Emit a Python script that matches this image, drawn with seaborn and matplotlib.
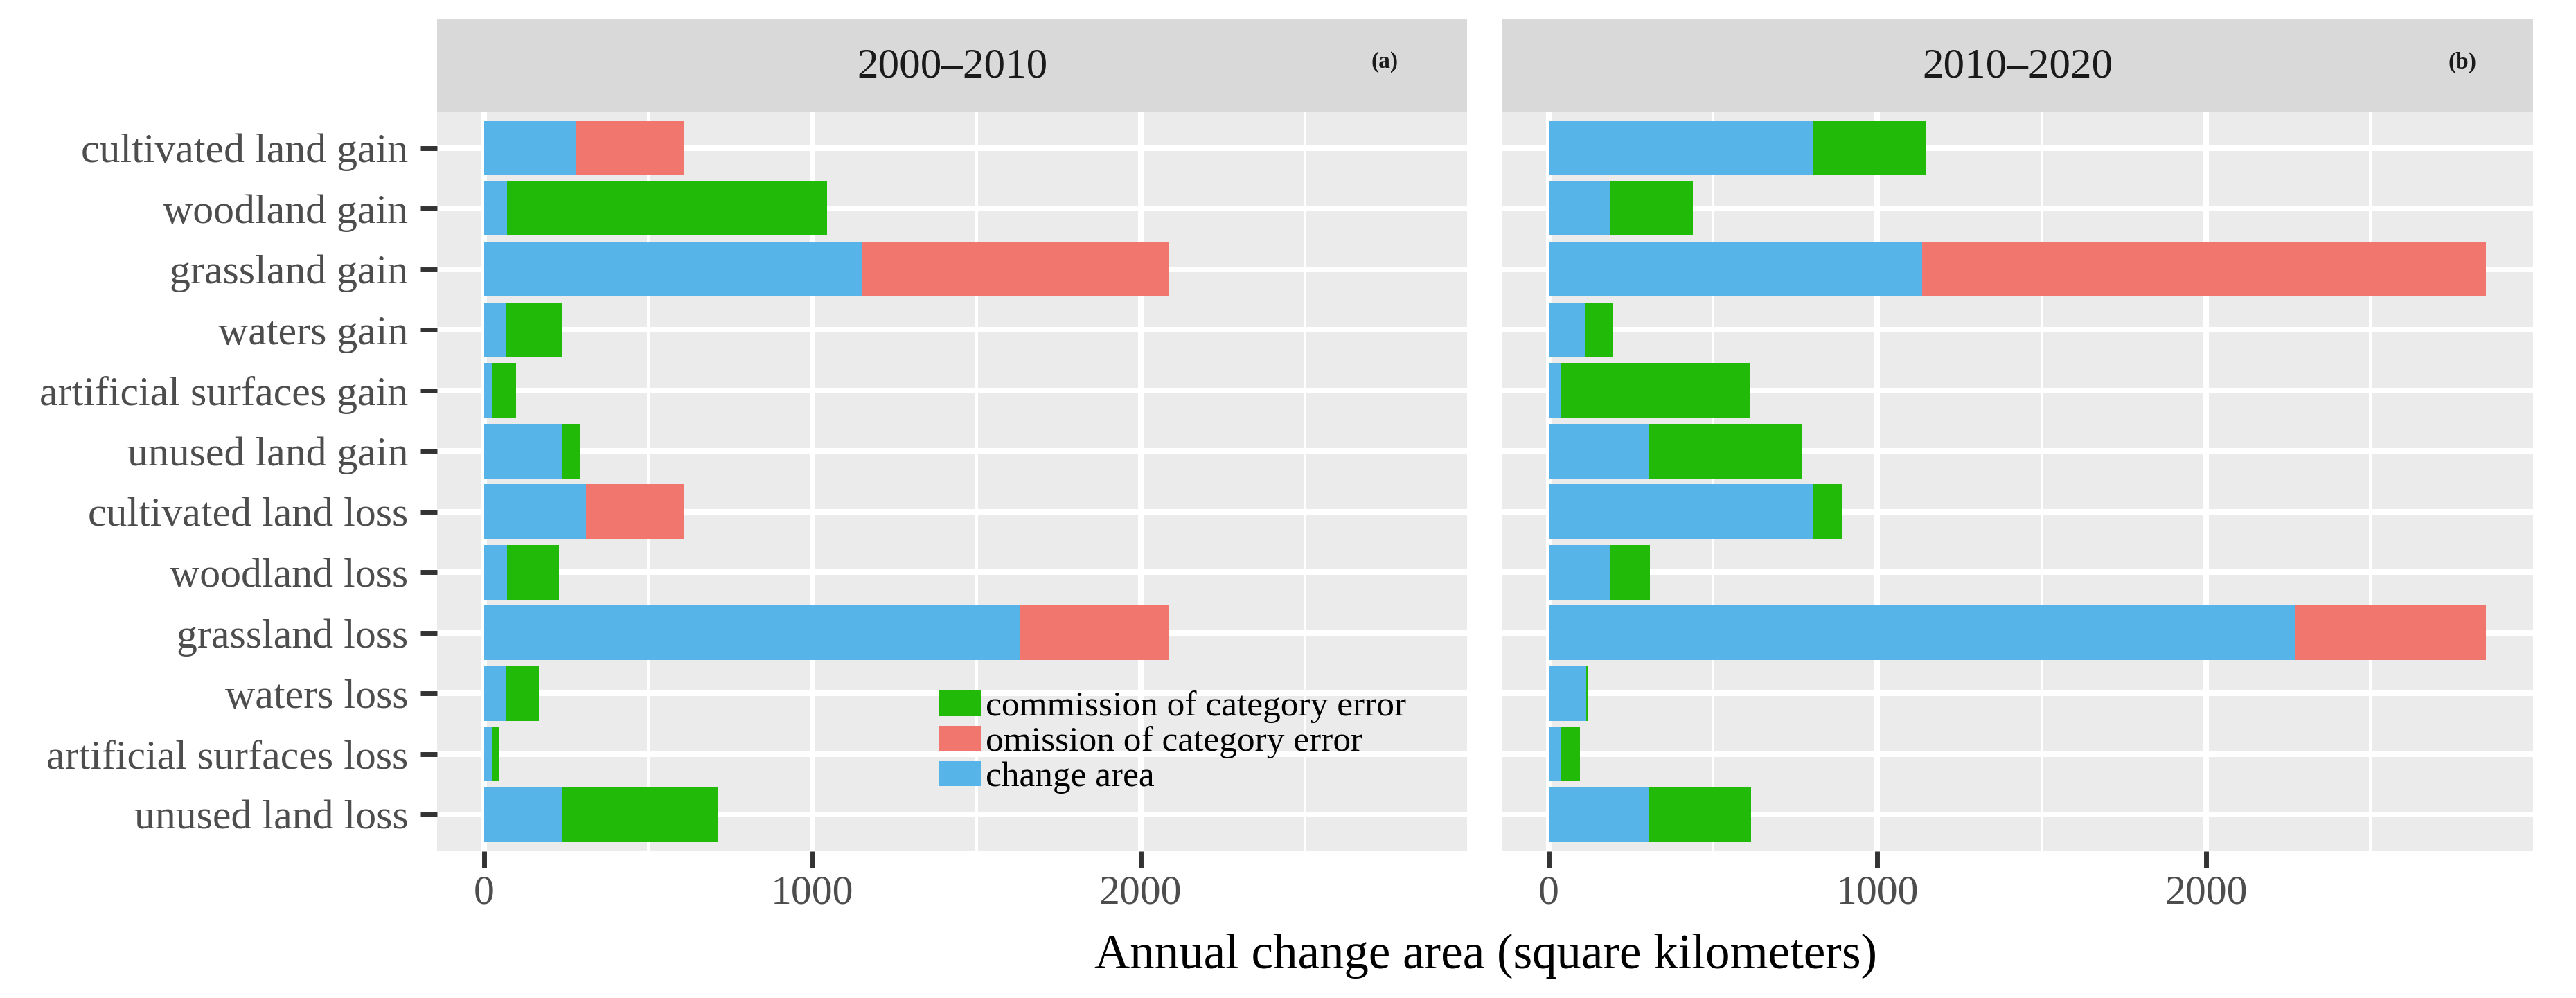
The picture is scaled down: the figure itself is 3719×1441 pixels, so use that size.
import numpy as np
import pandas as pd
import matplotlib
matplotlib.use("Agg")
import matplotlib.pyplot as plt
import seaborn as sns
from matplotlib.patches import Patch

# ---------------- data ----------------
categories = ["cultivated land gain", "woodland gain", "grassland gain", "waters gain",
              "artificial surfaces gain", "unused land gain", "cultivated land loss",
              "woodland loss", "grassland loss", "waters loss",
              "artificial surfaces loss", "unused land loss"]
periods = ["2000\u20132010", "2010\u20132020"]
panel_tags = ["(a)", "(b)"]

change_a = [279, 71, 1150, 69, 27, 239, 312, 71, 1633, 69, 27, 239]
error_a = [332, 974, 936, 168, 70, 55, 299, 158, 453, 99, 18, 475]
etype_a = ["omission", "commission", "omission", "commission", "commission", "commission",
           "omission", "commission", "omission", "commission", "commission", "commission"]

change_b = [804, 186, 1137, 112, 38, 306, 804, 186, 2270, 114, 38, 306]
error_b = [342, 253, 1715, 82, 574, 466, 88, 122, 582, 4, 57, 310]
etype_b = ["commission", "commission", "omission", "commission", "commission", "commission",
           "commission", "commission", "omission", "commission", "commission", "commission"]

legend_labels = ["commission of category error", "omission of category error", "change area"]
x_ticks = [0, 1000, 2000]
x_minor = [500, 1500, 2500]

colors = {"commission": "#21BA08", "omission": "#F0766E", "change": "#56B4E9"}

frames = []
for per, ch, er, et in [(periods[0], change_a, error_a, etype_a),
                        (periods[1], change_b, error_b, etype_b)]:
    frames.append(pd.DataFrame({"period": per, "category": categories,
                                "change": ch, "error": er, "etype": et}))
df = pd.concat(frames, ignore_index=True)
df["total"] = df["change"] + df["error"]

# ---------------- style ----------------
plt.rcParams["font.family"] = ["Liberation Serif", "DejaVu Serif"]

W, H = 3719, 1441
fig = plt.figure(figsize=(W / 100, H / 100), dpi=100)

panel_top, panel_bot = 161, 1229
panels_x = [(631, 2118), (2168, 3657)]
strip_top = 28
tag_x = [0.92, 0.9315]

xmax = df["total"].max()
xlim = (-0.05 * xmax, 1.05 * xmax)

axes = []
for i, per in enumerate(periods):
    x0, x1 = panels_x[i]
    ax = fig.add_axes([x0 / W, 1 - panel_bot / H, (x1 - x0) / W, (panel_bot - panel_top) / H])
    axes.append(ax)
    ax.set_facecolor("#EBEBEB")
    d = df[df["period"] == per]
    sns.barplot(data=d, x="total", y="category", hue="etype",
                hue_order=["commission", "omission"], palette=colors,
                order=categories, dodge=False, width=0.9, saturation=1,
                errorbar=None, legend=False, ax=ax, linewidth=0)
    sns.barplot(data=d, x="change", y="category", color=colors["change"],
                order=categories, width=0.9, saturation=1, errorbar=None,
                ax=ax, linewidth=0)
    ax.set_xlim(*xlim)
    ax.set_ylim(len(categories) - 0.4, -0.6)
    ax.set_xticks(x_ticks)
    ax.set_xticklabels([str(t) for t in x_ticks])
    ax.set_xticks(x_minor, minor=True)
    ax.set_axisbelow(True)
    ax.grid(which="major", color="white", linewidth=5.8)
    ax.grid(which="minor", axis="x", color="white", linewidth=2.9)
    for s in ax.spines.values():
        s.set_visible(False)
    ax.set_xlabel("")
    ax.set_ylabel("")
    ax.tick_params(which="minor", length=0)
    ax.tick_params(axis="x", which="major", length=17, width=5, color="#333333",
                   labelsize=43, labelcolor="#4D4D4D", pad=8)
    if i == 0:
        ax.tick_params(axis="y", which="major", length=17, width=5, color="#333333",
                       labelsize=43, labelcolor="#4D4D4D", pad=13)
    else:
        ax.tick_params(axis="y", which="major", length=0, labelleft=False)

    # facet strip
    sax = fig.add_axes([x0 / W, 1 - panel_top / H, (x1 - x0) / W, (panel_top - strip_top) / H])
    sax.set_facecolor("#D9D9D9")
    sax.set_xticks([])
    sax.set_yticks([])
    for s in sax.spines.values():
        s.set_visible(False)
    sax.text(0.5, 0.485, per, ha="center", va="center", fontsize=44,
             color="#1A1A1A", transform=sax.transAxes)
    sax.text(tag_x[i], 0.534, panel_tags[i], ha="center", va="center", fontsize=24,
             fontweight="bold", color="#1A1A1A", transform=sax.transAxes)

# legend inside panel (a)
handles = [Patch(facecolor=colors["commission"], edgecolor="none"),
           Patch(facecolor=colors["omission"], edgecolor="none"),
           Patch(facecolor=colors["change"], edgecolor="none")]
ax0 = axes[0]
leg_left = (1355 - panels_x[0][0]) / (panels_x[0][1] - panels_x[0][0])
leg_top = (panel_bot - 997) / (panel_bot - panel_top)
ax0.legend(handles, legend_labels, loc="upper left", bbox_to_anchor=(leg_left, leg_top),
           frameon=False, fontsize=37, handlelength=1.2, handleheight=0.72,
           handletextpad=0.12, labelspacing=0.07, borderpad=0, borderaxespad=0)

fig.text(2145 / W, 1 - 1380 / H, "Annual change area (square kilometers)",
         ha="center", va="center", fontsize=51, color="black")

fig.savefig("out.png", dpi=100)
